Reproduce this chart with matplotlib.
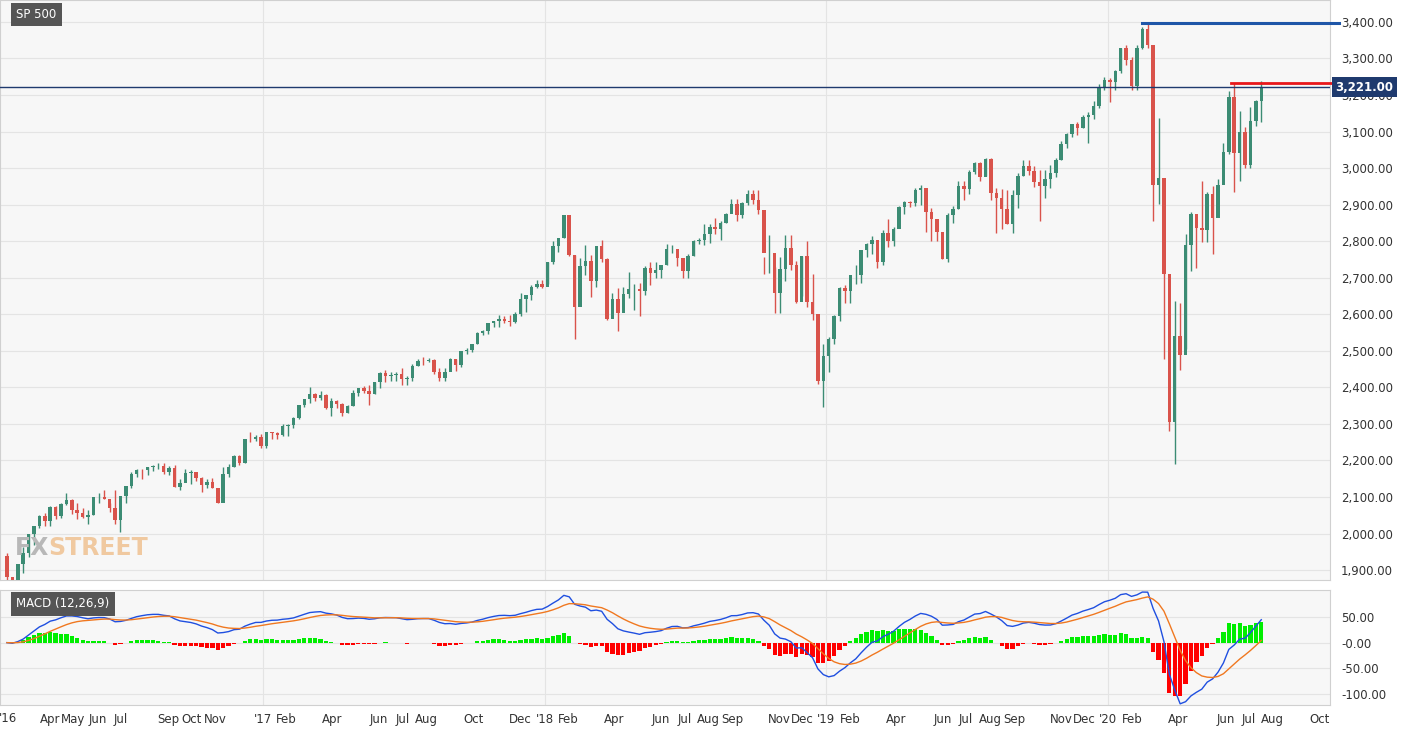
import matplotlib
matplotlib.use('Agg')
import matplotlib.pyplot as plt
import matplotlib.dates as mdates
import numpy as np
import pandas as pd

# weekly SP 500 candles, Fridays from 2016-02-05
close_16 = [1880,1865,1917,1948,1999,2022,2049,2035,2073,2048,2081,2092,2065,2057,2046,2052,2099,2099,2096,2071,2037,2103,2130,2162,2175,2174,2183,2184,2184,2169,2180,2128,2139,2165,2168,2153,2133,2141,2126,2085,2164,2182,2213,2192,2260,2258,2264,2239]
high_16 = [1947,1881,1918,1963,2000,2022,2052,2056,2075,2075,2083,2111,2096,2084,2071,2064,2100,2111,2120,2085,2120,2103,2131,2169,2176,2178,2183,2188,2193,2193,2185,2187,2150,2176,2175,2169,2156,2150,2151,2123,2182,2190,2214,2214,2260,2278,2270,2273]
low_16 = [1872,1810,1864,1891,1937,1969,2014,2022,2022,2039,2044,2079,2054,2039,2043,2026,2052,2085,2094,2060,2026,2004,2085,2126,2155,2148,2159,2170,2178,2163,2160,2127,2119,2143,2137,2143,2114,2124,2126,2083,2151,2156,2183,2187,2192,2250,2254,2234]

close_17 = [2277,2275,2271,2295,2297,2316,2351,2367,2383,2372,2378,2344,2363,2355,2329,2349,2384,2399,2390,2382,2416,2439,2432,2433,2438,2423,2425,2459,2473,2472,2476,2441,2426,2443,2477,2461,2500,2502,2519,2549,2553,2575,2581,2588,2582,2578,2602,2642,2652,2675,2683,2674]
high_17 = [2277,2279,2279,2301,2300,2319,2351,2368,2401,2384,2390,2382,2370,2366,2356,2353,2392,2399,2404,2406,2416,2441,2447,2441,2441,2453,2432,2463,2477,2484,2481,2479,2452,2452,2480,2478,2500,2509,2520,2552,2556,2576,2583,2597,2595,2597,2605,2658,2653,2680,2695,2694]
low_17 = [2233,2258,2258,2267,2267,2288,2313,2345,2357,2364,2365,2341,2322,2344,2322,2329,2349,2377,2385,2353,2381,2399,2415,2418,2417,2407,2407,2417,2459,2461,2470,2437,2417,2418,2446,2446,2457,2491,2496,2520,2543,2547,2564,2566,2575,2567,2576,2594,2606,2640,2673,2671]

close_18 = [2743,2786,2810,2873,2762,2620,2732,2747,2691,2786,2752,2588,2641,2604,2656,2670,2670,2663,2728,2712,2721,2735,2779,2780,2755,2718,2760,2801,2802,2819,2840,2833,2850,2875,2902,2872,2904,2930,2914,2885,2767,2768,2658,2723,2781,2736,2633,2760,2633,2600,2417,2486]
high_18 = [2743,2800,2810,2873,2872,2763,2754,2789,2761,2787,2802,2753,2659,2673,2675,2717,2683,2685,2732,2742,2742,2736,2791,2790,2769,2744,2764,2804,2808,2848,2848,2863,2855,2877,2916,2916,2906,2941,2940,2939,2758,2817,2730,2756,2816,2816,2747,2760,2800,2709,2599,2520]
low_18 = [2682,2737,2770,2808,2759,2533,2631,2707,2647,2675,2744,2585,2594,2553,2611,2644,2612,2594,2653,2681,2700,2700,2736,2768,2733,2698,2698,2759,2791,2790,2795,2821,2802,2850,2876,2856,2864,2898,2903,2874,2710,2712,2603,2603,2690,2722,2631,2651,2621,2585,2409,2346]

close_19 = [2532,2596,2671,2665,2707,2708,2776,2793,2804,2743,2822,2801,2834,2893,2907,2905,2940,2946,2881,2860,2826,2752,2873,2887,2950,2942,2990,3014,2977,3026,2932,2919,2889,2847,2926,2979,3007,2992,2962,2952,2970,2986,3023,3067,3093,3120,3110,3141,3146,3169,3221,3240]
high_19 = [2538,2597,2675,2681,2708,2736,2776,2796,2814,2804,2831,2860,2838,2895,2910,2910,2946,2955,2935,2892,2851,2826,2877,2895,2964,2964,2996,3017,3018,3028,3028,2945,2943,2940,2940,2986,3021,3022,3007,2996,2994,3008,3027,3074,3097,3121,3127,3145,3154,3183,3231,3248]
low_19 = [2443,2519,2582,2632,2631,2682,2685,2756,2764,2728,2734,2785,2786,2836,2874,2893,2896,2900,2825,2800,2801,2752,2744,2850,2887,2912,2928,2985,2965,2979,2914,2822,2834,2847,2823,2891,2979,2981,2949,2855,2919,2946,2975,3022,3056,3085,3090,3109,3070,3134,3164,3214]

close_20 = [3235,3265,3330,3295,3226,3328,3380,3338,2954,2972,2711,2305,2541,2489,2790,2875,2837,2831,2930,2864,2955,3044,3194,3041,3098,3009,3130,3185,3221]
high_20 = [3246,3268,3330,3338,3304,3337,3385,3397,3259,3137,2910,2553,2637,2632,2819,2880,2870,2965,2934,2950,2969,3068,3212,3232,3155,3113,3166,3186,3238]
low_20 = [3181,3214,3261,3281,3214,3214,3325,3328,2856,2901,2479,2281,2191,2447,2505,2718,2727,2798,2798,2766,2872,2969,3038,2936,2966,2999,2999,3115,3127]

first_open = 1940
last_price = 3221.00
resistance_red = 3233
resistance_blue = 3397
red_start = '2020-06-08'
blue_start = '2020-02-14'

tick_dates = ['2016-04-01','2016-05-01','2016-06-01','2016-07-01','2016-09-01','2016-10-01','2016-11-01',
              '2017-01-01','2017-02-01','2017-04-01','2017-06-01','2017-07-01','2017-08-01','2017-10-01','2017-12-01',
              '2018-01-01','2018-02-01','2018-04-01','2018-06-01','2018-07-01','2018-08-01','2018-09-01','2018-11-01','2018-12-01',
              '2019-01-01','2019-02-01','2019-04-01','2019-06-01','2019-07-01','2019-08-01','2019-09-01','2019-11-01','2019-12-01',
              '2020-01-01','2020-02-01','2020-04-01','2020-06-01','2020-07-01','2020-08-01','2020-10-01']
tick_labels = ['Apr','May','Jun','Jul','Sep','Oct','Nov',"'17",'Feb','Apr','Jun','Jul','Aug','Oct','Dec',
               "'18",'Feb','Apr','Jun','Jul','Aug','Sep','Nov','Dec',"'19",'Feb','Apr','Jun','Jul','Aug','Sep','Nov','Dec',
               "'20",'Feb','Apr','Jun','Jul','Aug','Oct']

c = np.array(close_16 + close_17 + close_18 + close_19 + close_20, float)
h = np.array(high_16 + high_17 + high_18 + high_19 + high_20, float)
l = np.array(low_16 + low_17 + low_18 + low_19 + low_20, float)
o = np.r_[first_open, c[:-1]]
dates = pd.date_range('2016-02-05', periods=len(c), freq='W-FRI')
x = mdates.date2num(dates)

s = pd.Series(c)
macd = s.ewm(span=12, adjust=False).mean() - s.ewm(span=26, adjust=False).mean()
signal = macd.ewm(span=9, adjust=False).mean()
hist = macd - signal

UP, DOWN = '#3c8c74', '#d9534b'
BG = '#f7f7f7'
W, H = 1413, 732
fig = plt.figure(figsize=(W / 100, H / 100), dpi=100)
fig.patch.set_facecolor('white')

ax = fig.add_axes([0, 1 - 580 / H, 1330 / W, 580 / H])
ax2 = fig.add_axes([0, 1 - 705 / H, 1330 / W, 115 / H])
xmin, xmax = mdates.datestr2num('2016-01-27'), mdates.datestr2num('2020-10-14')

for a in (ax, ax2):
    a.set_facecolor(BG)
    a.set_xlim(xmin, xmax)
    for sp in a.spines.values():
        sp.set_color('#d0d0d0')
    a.yaxis.tick_right()
    a.tick_params(axis='y', length=0, labelsize=8.5, colors='#333333', pad=8)
    a.set_xticks(mdates.datestr2num(tick_dates))
    a.grid(axis='y', color='#e4e4e4', lw=0.8)
    for yr in ['2017-01-01', '2018-01-01', '2019-01-01', '2020-01-01']:
        a.axvline(mdates.datestr2num(yr), color='#e4e4e4', lw=0.8, zorder=0)

# candles
cols = [UP if cc >= oo else DOWN for oo, cc in zip(o, c)]
ax.vlines(x, l, h, colors=cols, lw=1, zorder=2)
ax.bar(x, np.abs(c - o), bottom=np.minimum(o, c), width=4.5, color=cols, zorder=3)
ax.set_ylim(1873, 3460)
ax.set_yticks(np.arange(1900, 3401, 100))
ax.set_yticklabels([f'{v:,.2f}' for v in np.arange(1900, 3401, 100)])
ax.set_xticklabels([])
ax.tick_params(axis='x', length=0)

ax.axhline(last_price, color='#1f3a6e', lw=1, zorder=4)
ax.plot([mdates.datestr2num(red_start), xmax + 2], [resistance_red] * 2, color='#e8171b', lw=2,
        zorder=4, clip_on=False)
ax.plot([mdates.datestr2num(blue_start), xmax + 12], [resistance_blue] * 2, color='#1f56a8', lw=2.2,
        zorder=4, clip_on=False)
ax.text(1.004, (last_price - 1873) / (3460 - 1873), f'{last_price:,.2f}', transform=ax.transAxes,
        ha='left', va='center', color='white', fontsize=8.5, fontweight='bold', zorder=10,
        bbox=dict(boxstyle='square,pad=0.3', fc='#1f3a6e', ec='none'))
ax.text(0.012, 0.975, 'SP 500', transform=ax.transAxes, ha='left', va='center', color='white', fontsize=8.5,
        bbox=dict(boxstyle='square,pad=0.45', fc='#555555', ec='none'))
ax.text(0.011, 0.055, 'FX', transform=ax.transAxes, ha='left', va='center', color='#b8b8b8',
        fontsize=17, fontweight='bold')
ax.text(0.036, 0.055, 'STREET', transform=ax.transAxes, ha='left', va='center', color='#f0c9a0',
        fontsize=17, fontweight='bold')

# MACD panel
ax2.bar(x, hist, width=5.5, color=['#00ee00' if v >= 0 else '#ff0000' for v in hist], zorder=2)
ax2.plot(x, macd, color='#1f4fe0', lw=1, zorder=3)
ax2.plot(x, signal, color='#f07820', lw=1, zorder=3)
ax2.set_ylim(-122, 103)
ax2.set_yticks([50, 0, -50, -100])
ax2.set_yticklabels(['50.00', '-0.00', '-50.00', '-100.00'])
ax2.set_xticklabels(tick_labels)
ax2.tick_params(axis='x', length=0, labelsize=8.5, colors='#333333', pad=6)
ax2.text(0.012, 0.88, 'MACD (12,26,9)', transform=ax2.transAxes, ha='left', va='center', color='white',
         fontsize=8.5, bbox=dict(boxstyle='square,pad=0.45', fc='#555555', ec='none'))
ax2.text(-0.001, -0.115, "'16", transform=ax2.transAxes, ha='left', va='center', fontsize=8.5, color='#333333')

fig.savefig('out.png', dpi=100)
